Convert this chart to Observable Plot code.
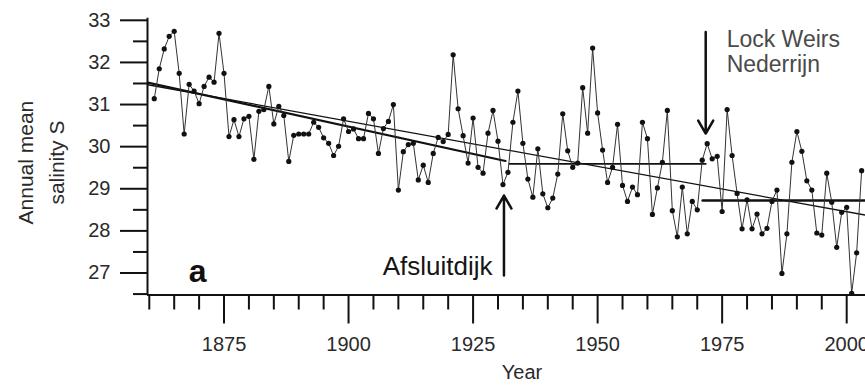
<!DOCTYPE html>
<html><head><meta charset="utf-8">
<script src="https://cdn.jsdelivr.net/npm/d3@7"></script>
<script src="https://cdn.jsdelivr.net/npm/@observablehq/plot@0.6"></script>
<style>
html,body{margin:0;padding:0;background:#fff;overflow:hidden;}
#chart svg{display:block;}
</style></head><body><div id="chart"></div>
<script>
// ---- data ----
const firstYear = 1861;
const salinity = [
  31.14, 31.85, 32.32, 32.62, 32.74, 31.74, 30.30, 31.48, 31.32, 31.02,
  31.43, 31.65, 31.53, 32.69, 31.74, 30.24, 30.64, 30.24, 30.66, 30.72,
  29.70, 30.84, 30.88, 31.43, 30.54, 30.96, 30.74, 29.65, 30.27, 30.30,
  30.30, 30.30, 30.58, 30.46, 30.21, 30.08, 29.79, 30.01, 30.66, 30.36,
  30.42, 30.19, 30.19, 30.79, 30.66, 29.84, 30.43, 30.60, 31.00, 28.97,
  29.88, 30.05, 30.08, 29.21, 29.56, 29.15, 29.84, 30.22, 30.12, 30.29,
  32.18, 30.90, 30.26, 29.61, 30.68, 29.51, 29.37, 30.32, 30.86, 30.13,
  29.10, 29.39, 30.58, 31.32, 30.08, 29.23, 28.80, 29.95, 28.88, 28.55,
  28.78, 29.35, 30.78, 29.90, 29.51, 29.61, 31.40, 30.32, 32.34, 30.80,
  29.92, 29.15, 29.51, 30.53, 29.08, 28.70, 29.04, 28.86, 30.58, 30.19,
  28.39, 29.02, 29.63, 30.86, 28.48, 27.86, 29.04, 27.93, 28.70, 28.50,
  29.68, 30.07, 29.71, 29.77, 28.46, 30.88, 29.79, 28.89, 28.05, 28.74,
  28.05, 28.40, 27.93, 28.06, 28.70, 28.97, 26.99, 27.93, 29.63, 30.36,
  29.89, 29.19, 28.97, 27.95, 27.90, 29.37, 28.68, 27.61, 28.44, 28.56,
  26.52, 27.48, 29.43
];
const years = salinity.map((_, i) => firstYear + i);

// trend / mean lines (end points)
const fitAllYears = [1859.7, 2004];
const fitAllValues = [31.47, 28.37];
const fitPreYears = [1859.7, 1931.5];
const fitPreValues = [31.52, 29.66];
const meanMidYears = [1932.3, 1971.7];
const meanMidValues = [29.59, 29.59];
const meanPostYears = [1971.1, 2010];
const meanPostValues = [28.72, 28.72];

// events (arrows)
const eventNames = ["Afsluitdijk", "Lock Weirs\nNederrijn"];
const eventYears = [1931.2, 1971.7];
const arrowFrom = [26.94, 32.72];
const arrowTo = [28.84, 30.31];
const labelYears = [1928.9, 1975.9];
const labelValues = [27.155, 32.264];

// axes
const xDomain = [1859.64, 2010];
const yDomain = [26.478, 33.05];
const xMajor = [1875, 1900, 1925, 1950, 1975, 2000];
const xMinor = [1860, 1865, 1870, 1880, 1885, 1890, 1895, 1905, 1910, 1915, 1920, 1930, 1935, 1940, 1945, 1955, 1960, 1965, 1970, 1980, 1985, 1990, 1995, 2005];
const yMajor = [27, 28, 29, 30, 31, 32, 33];
const yMinor = [26.5, 27.5, 28.5, 29.5, 30.5, 31.5, 32.5];
const panelLetter = ["a"];
const panelPos = [1869.7, 27.04];
const xTitle = ["Year"];
const yTitle = ["Annual mean\nsalinity S"];

const series = years.map((y, i) => ({year: y, s: salinity[i]}));
const seg = (xs, ys) => xs.map((x, i) => ({x, y: ys[i]}));
const events = eventNames.map((n, i) => ({name: n, x: eventYears[i], y1: arrowFrom[i], y2: arrowTo[i], lx: labelYears[i], ly: labelValues[i]}));

const chart = Plot.plot({
  width: 900, height: 390,
  marginLeft: 147, marginRight: 4, marginTop: 17.7, marginBottom: 95.5,
  x: {domain: xDomain},
  y: {domain: yDomain},
  style: {fontFamily: "'Liberation Sans', Arial, sans-serif", fontSize: "20px", maxWidth: "none", overflow: "visible", background: "white"},
  marks: [
    Plot.axisX({ticks: xMajor, tickSize: 29, tickPadding: 13, tickFormat: d => String(d), strokeWidth: 2, stroke: "#111", fill: "#2a2a2a", fontSize: 20, label: null}),
    Plot.axisX({ticks: xMinor, tickSize: 15, tickFormat: () => "", strokeWidth: 2, stroke: "#111", label: null}),
    Plot.axisY({ticks: yMajor, tickSize: 27, tickPadding: 10, tickFormat: d => String(d), strokeWidth: 2, stroke: "#111", fill: "#2a2a2a", fontSize: 20, label: null}),
    Plot.axisY({ticks: yMinor, tickSize: 14, tickFormat: () => "", strokeWidth: 2, stroke: "#111", label: null}),
    Plot.ruleX([xDomain[0]], {stroke: "#111", strokeWidth: 2}),
    Plot.ruleY([yDomain[0]], {stroke: "#111", strokeWidth: 2}),
    Plot.text(xTitle, {frameAnchor: "bottom", text: d => d, dy: 84, fontSize: 20, fill: "#2a2a2a"}),
    Plot.text(yTitle, {frameAnchor: "left", text: d => d, textAnchor: "middle", lineAnchor: "middle", rotate: -90, dx: -109, dy: 6, fontSize: 21, lineHeight: 1.5, fill: "#2a2a2a"}),
    // trend lines
    Plot.line(seg(fitAllYears, fitAllValues), {x: "x", y: "y", stroke: "#111", strokeWidth: 1.3}),
    Plot.line(seg(fitPreYears, fitPreValues), {x: "x", y: "y", stroke: "#111", strokeWidth: 2.2}),
    Plot.line(seg(meanMidYears, meanMidValues), {x: "x", y: "y", stroke: "#111", strokeWidth: 1.8}),
    Plot.line(seg(meanPostYears, meanPostValues), {x: "x", y: "y", stroke: "#111", strokeWidth: 2.6}),
    // data
    Plot.line(series, {x: "year", y: "s", stroke: "#333", strokeWidth: 1}),
    Plot.dot(series, {x: "year", y: "s", r: 2.6, fill: "#111", stroke: "none"}),
    // events
    Plot.arrow(events, {x: "x", y1: "y1", y2: "y2", stroke: "#111", strokeWidth: 2.5, headLength: 9, headAngle: 60}),
    Plot.text(events.slice(0, 1), {x: "lx", y: "ly", text: "name", textAnchor: "end", fontSize: 26, fill: "#151515"}),
    Plot.text(events.slice(1), {x: "lx", y: "ly", text: "name", textAnchor: "start", fontSize: 23, lineHeight: 1.087, fill: "#4a4a4a"}),
    Plot.text(panelLetter, {x: () => panelPos[0], y: () => panelPos[1], text: d => d, fontSize: 32, fontWeight: "bold", fill: "#111"})
  ]
});
document.getElementById("chart").appendChild(chart);
</script>
</body></html>
